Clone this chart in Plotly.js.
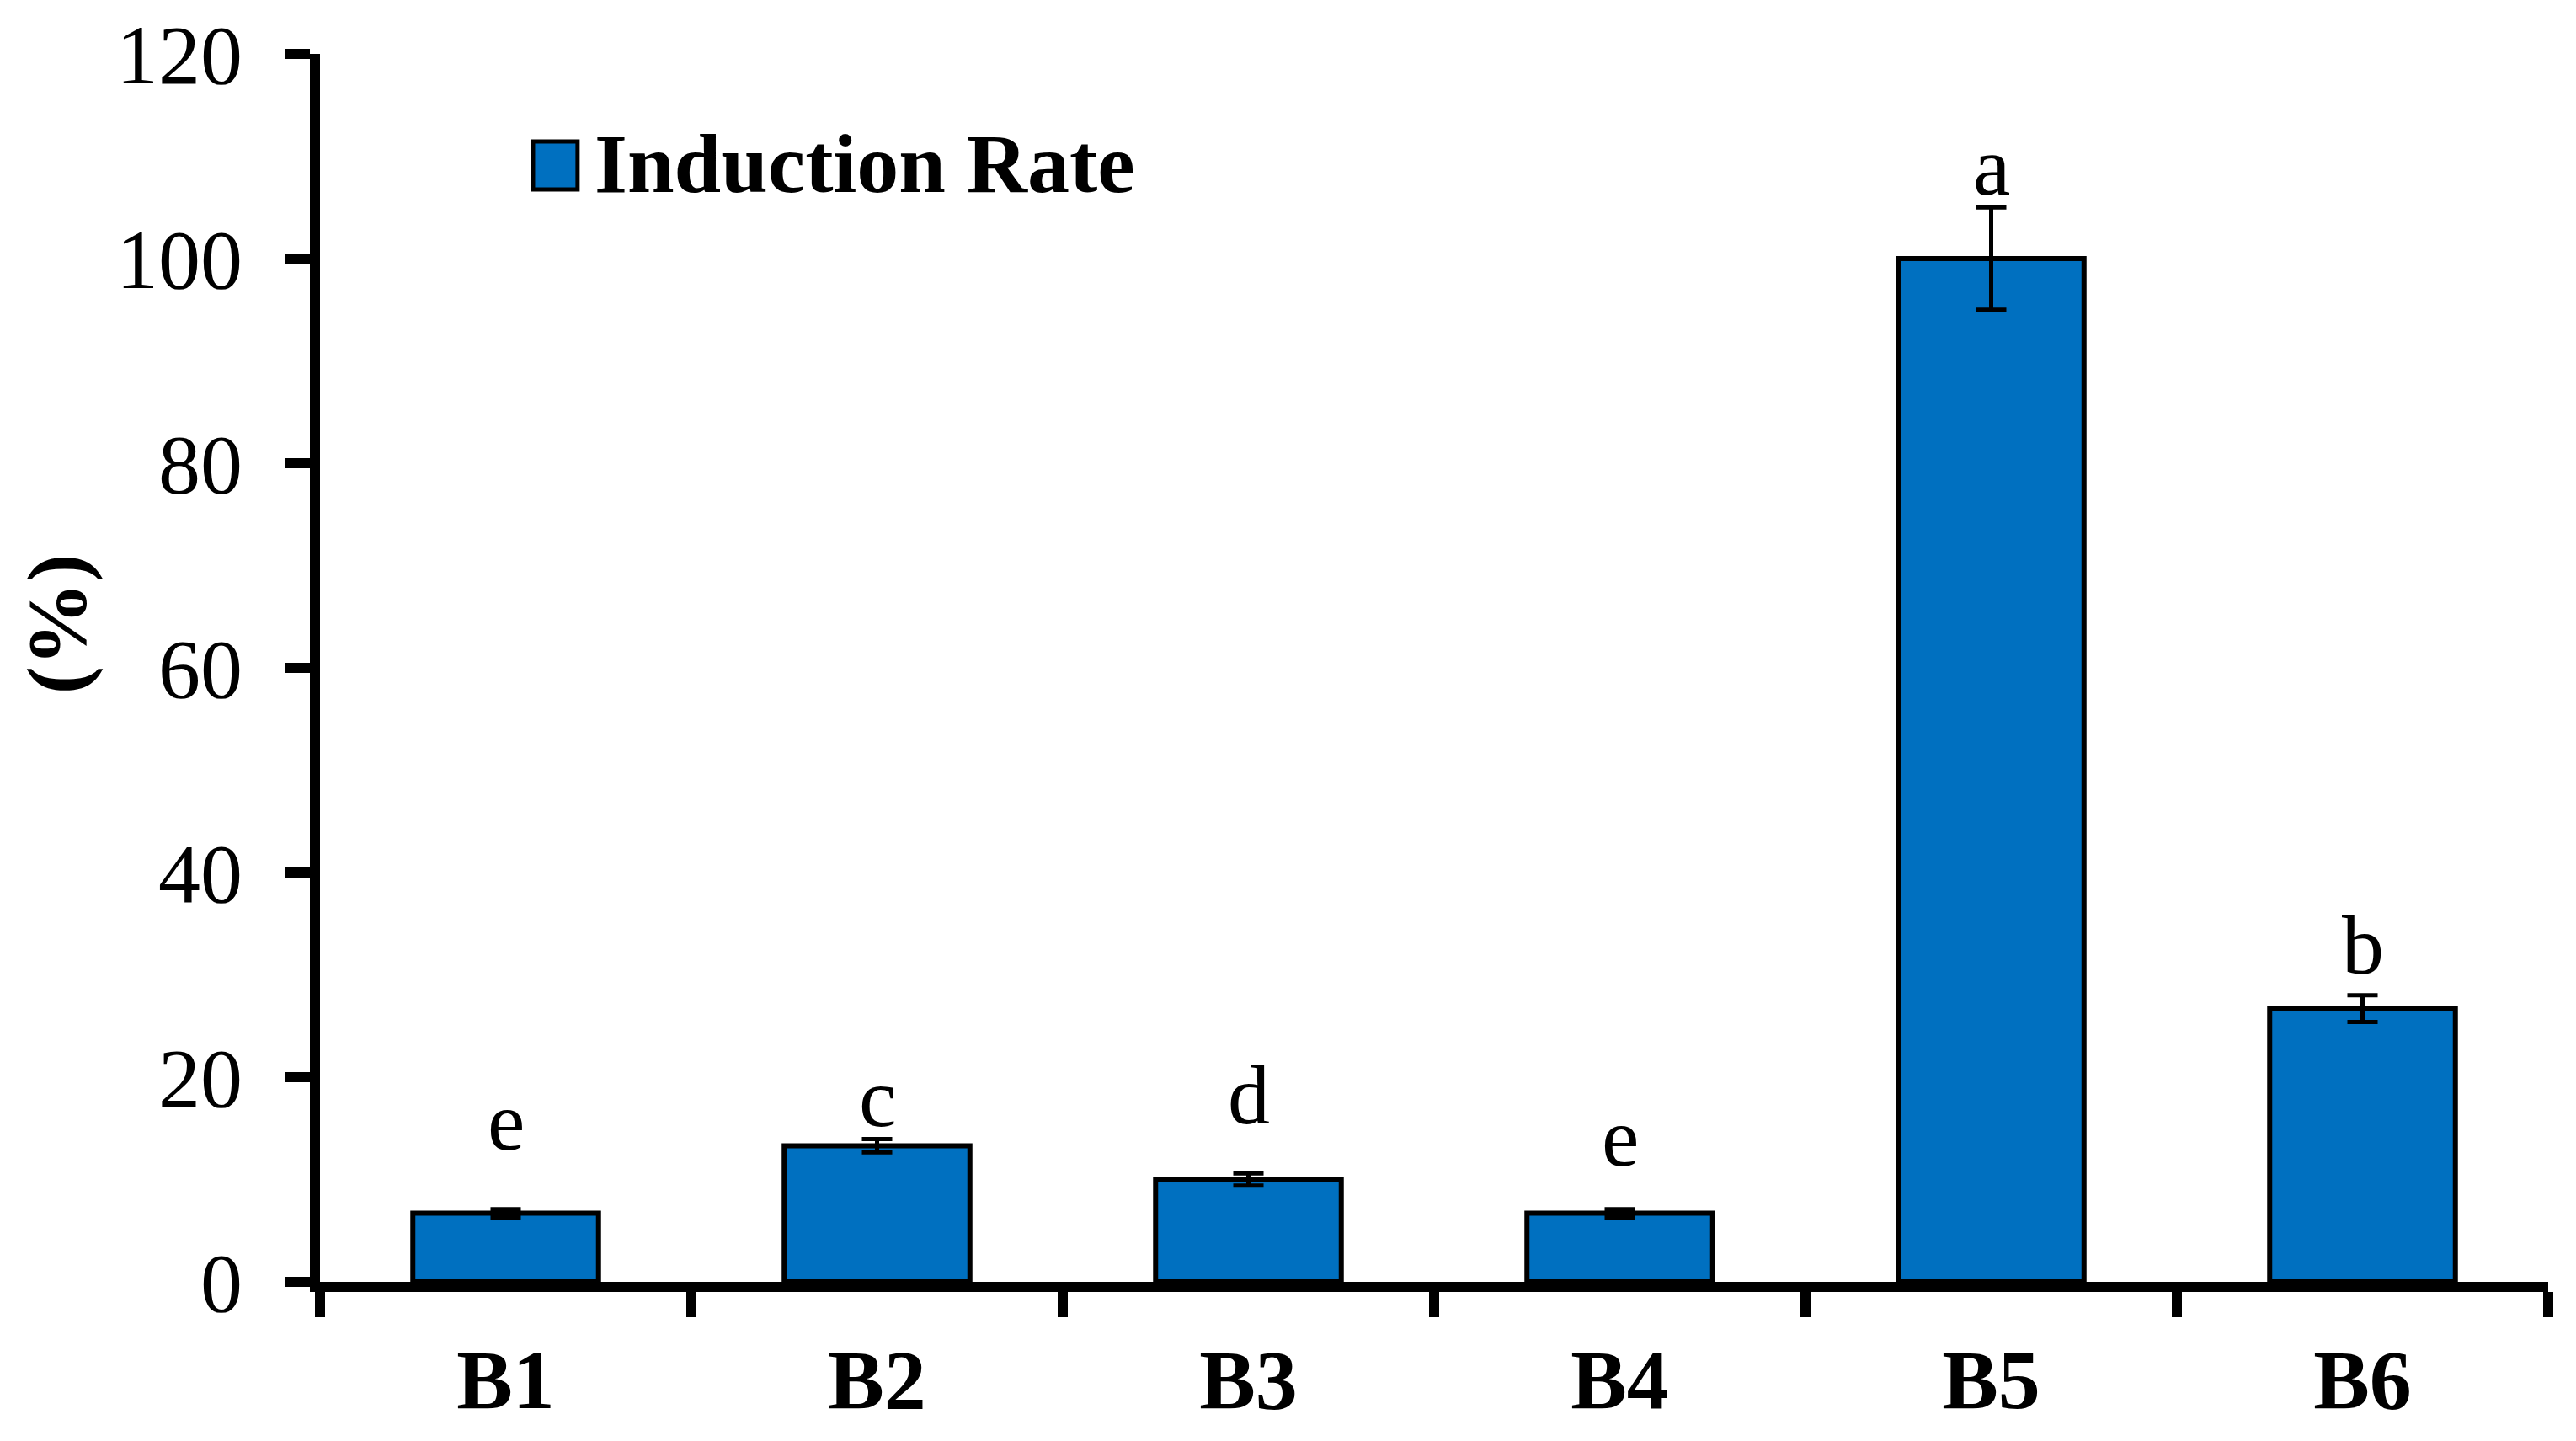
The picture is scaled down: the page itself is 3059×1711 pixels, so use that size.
<!DOCTYPE html>
<html>
<head>
<meta charset="utf-8">
<script src="https://cdn.plot.ly/plotly-3.0.1.min.js"></script>
<style>html,body{margin:0;padding:0;background:#fff;}#chart{width:3059px;height:1711px;}</style>
</head>
<body>
<div id="chart"></div>
<script>
// ---- data ----
var categories = ['B1', 'B2', 'B3', 'B4', 'B5', 'B6'];
var inductionRate = [6.7, 13.3, 10.0, 6.7, 100.0, 26.7];
var inductionErr = [0.4, 0.65, 0.6, 0.4, 5.0, 1.3];
var groupLetters = ['e', 'c', 'd', 'e', 'a', 'b'];
var letterY = [15.7, 18.0, 18.2, 14.1, 109.0, 32.9];
var seriesName = 'Induction Rate';
var yTitle = '(%)';
var yTickVals = [0, 20, 40, 60, 80, 100, 120];

var FONT = 'Liberation Serif, Times New Roman, serif';
var BLUE = '#0070C0';

var trace = {
  type: 'bar',
  x: categories,
  y: inductionRate,
  name: seriesName,
  marker: {color: BLUE, line: {color: '#000', width: 6}},
  error_y: {type: 'data', array: inductionErr, visible: true, color: '#000', thickness: 5, width: 18},
  showlegend: false,
  hoverinfo: 'x+y'
};

var annotations = categories.map(function (c, i) {
  return {
    x: c, y: letterY[i], xref: 'x', yref: 'y',
    text: groupLetters[i], showarrow: false,
    xanchor: 'center', yanchor: 'middle',
    font: {family: FONT, size: 100, color: '#000'}
  };
});
// y-axis title
annotations.push({
  xref: 'paper', yref: 'paper', x: -0.118, y: 0.536,
  text: yTitle, textangle: -90, showarrow: false,
  xanchor: 'center', yanchor: 'middle',
  font: {family: FONT, size: 100, color: '#000', weight: 'bold'}
});
// legend text
annotations.push({
  xref: 'paper', yref: 'paper', x: 0.1225, y: 0.9108,
  text: seriesName, showarrow: false,
  xanchor: 'left', yanchor: 'middle',
  font: {family: FONT, size: 100, color: '#000', weight: 'bold'}
});

var layout = {
  width: 3059, height: 1711,
  margin: {l: 380, r: 33, t: 64, b: 189, pad: 0},
  paper_bgcolor: '#fff', plot_bgcolor: '#fff',
  bargap: 0.5,
  font: {family: FONT, size: 100, color: '#000'},
  xaxis: {
    type: 'category', range: [-0.5, 5.5],
    showline: true, linecolor: '#000', linewidth: 12,
    ticks: 'outside', ticklen: 30, tickwidth: 12, tickcolor: '#000',
    tickson: 'boundaries', showgrid: false, zeroline: false,
    tickfont: {family: FONT, size: 100, color: '#000', weight: 'bold'},
    ticklabelstandoff: 18
  },
  yaxis: {
    range: [0, 120], tickvals: yTickVals,
    showline: true, linecolor: '#000', linewidth: 12,
    ticks: 'outside', ticklen: 30, tickwidth: 12, tickcolor: '#000',
    showgrid: false, zeroline: false,
    tickfont: {family: FONT, size: 100, color: '#000'},
    ticklabelstandoff: 30
  },
  shapes: [{
    type: 'rect', xref: 'paper', yref: 'paper',
    x0: 0.0956, x1: 0.1156, y0: 0.8896, y1: 0.9287,
    fillcolor: BLUE, line: {color: '#000', width: 5}
  }],
  annotations: annotations
};

Plotly.newPlot('chart', [trace], layout, {displayModeBar: false, staticPlot: true});
</script>
</body>
</html>
